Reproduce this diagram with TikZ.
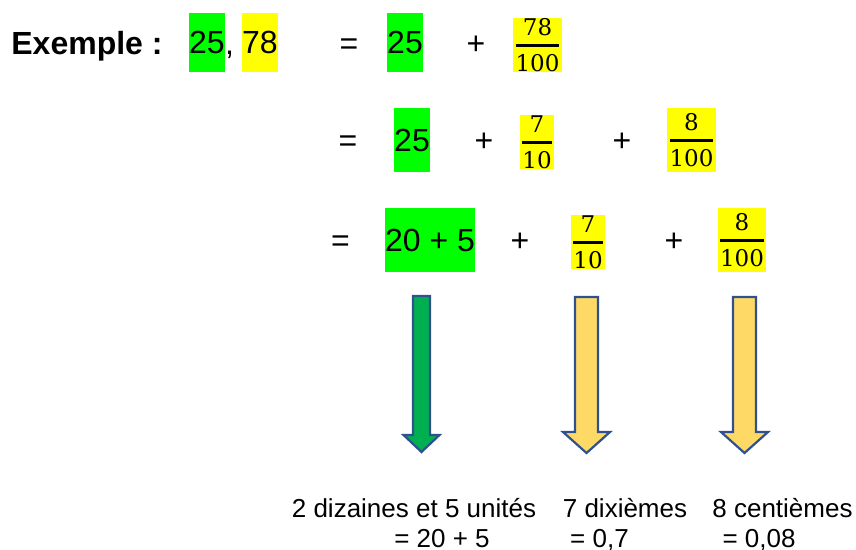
\documentclass[tikz,border=0pt]{standalone}
\usepackage{amsmath}
\usepackage{fontspec}
\setmainfont{Liberation Sans}
\newfontfamily\fracfont{DejaVu Serif}

\definecolor{boxgreen}{HTML}{00FF00}
\definecolor{boxyellow}{HTML}{FFFF00}
\definecolor{arrgreen}{HTML}{00B050}
\definecolor{arryellow}{HTML}{FFD966}
\definecolor{arrblue}{HTML}{2F528F}

\newcommand{\dfr}[2]{$\genfrac{}{}{1.3pt}{0}{\hbox{\fracfont #1}}{\hbox{\fracfont #2}}$}

\tikzset{
  big/.style={font=\fontsize{16}{19}\selectfont, inner sep=0pt},
  op/.style={big, anchor=base},
  gbox/.style={big, fill=boxgreen, inner xsep=0.2pt, minimum height=32pt},
  ytbox/.style={gbox, fill=boxyellow},
  ybox/.style={fill=boxyellow, inner sep=0pt, font=\fontsize{11.5}{14}\selectfont},
  small/.style={font=\fontsize{13}{15}\selectfont, inner sep=0pt, anchor=base},
  blockarrow/.style={draw=arrblue, line width=1.1pt, line join=miter}
}

\begin{document}
\begin{tikzpicture}[x=0.5pt,y=-0.5pt]
 \useasboundingbox (0,0) rectangle (856,550);
 % ligne 1
 \node[big, font=\fontsize{16}{19}\selectfont\bfseries, anchor=base west] (ex) at (11,55) {Exemple :};
 \node[gbox, minimum height=29.5pt] (a1) at (207,42.5) {25};
 \node[op] (vg) at (229.5,55) {,};
 \node[ytbox, minimum height=29.5pt] (b1) at (260,42.5) {78};
 \node[op] (eq1) at (349,55) {=};
 \node[gbox, minimum height=29.5pt] (a2) at (405,42.5) {25};
 \node[op] (p1) at (476,55) {+};
 \node[ybox, minimum width=22.5pt, minimum height=27pt] (f1) at (537.5,45) {\dfr{78}{100}};
 % ligne 2
 \node[op] (eq2) at (348,151.5) {=};
 \node[gbox] (a3) at (412,140) {25};
 \node[op] (p2) at (484,151.5) {+};
 \node[ybox, minimum width=15pt, minimum height=27pt] (f2) at (537,142) {\dfr{7}{10}};
 \node[op] (p3) at (622,151.5) {+};
 \node[ybox, minimum width=23.5pt, minimum height=32pt] (f3) at (691.5,140) {\dfr{8}{100}};
 % ligne 3
 \node[op] (eq3) at (340.5,251.5) {=};
 \node[gbox] (a4) at (430,240) {20 + 5};
 \node[op] (p4) at (520,251.5) {+};
 \node[ybox, minimum width=15pt, minimum height=27pt] (f4) at (588,242) {\dfr{7}{10}};
 \node[op] (p5) at (674,251.5) {+};
 \node[ybox, minimum width=24pt, minimum height=32pt] (f5) at (742,240) {\dfr{8}{100}};
 % fleches
 \draw[blockarrow, fill=arrgreen] (413,296) -- (430,296) -- (430,435) -- (439.5,435)
   -- (421.5,452) -- (403.5,435) -- (413,435) -- cycle;
 \draw[blockarrow, fill=arryellow] (575,297) -- (598,297) -- (598,432) -- (610,432)
   -- (586.5,453) -- (563,432) -- (575,432) -- cycle;
 \draw[blockarrow, fill=arryellow] (733,297) -- (756,297) -- (756,432) -- (768,432)
   -- (744.5,453) -- (721,432) -- (733,432) -- cycle;
 % textes du bas
 \node[small] (t1) at (414,517) {2 dizaines et 5 unités};
 \node[small] (t1b) at (442,547) {= 20 + 5};
 \node[small] (t2) at (625,517) {7 dixièmes};
 \node[small] (t2b) at (599.5,547) {= 0,7};
 \node[small] (t3) at (782.5,517) {8 centièmes};
 \node[small] (t3b) at (759,547) {= 0,08};
\end{tikzpicture}
\end{document}
